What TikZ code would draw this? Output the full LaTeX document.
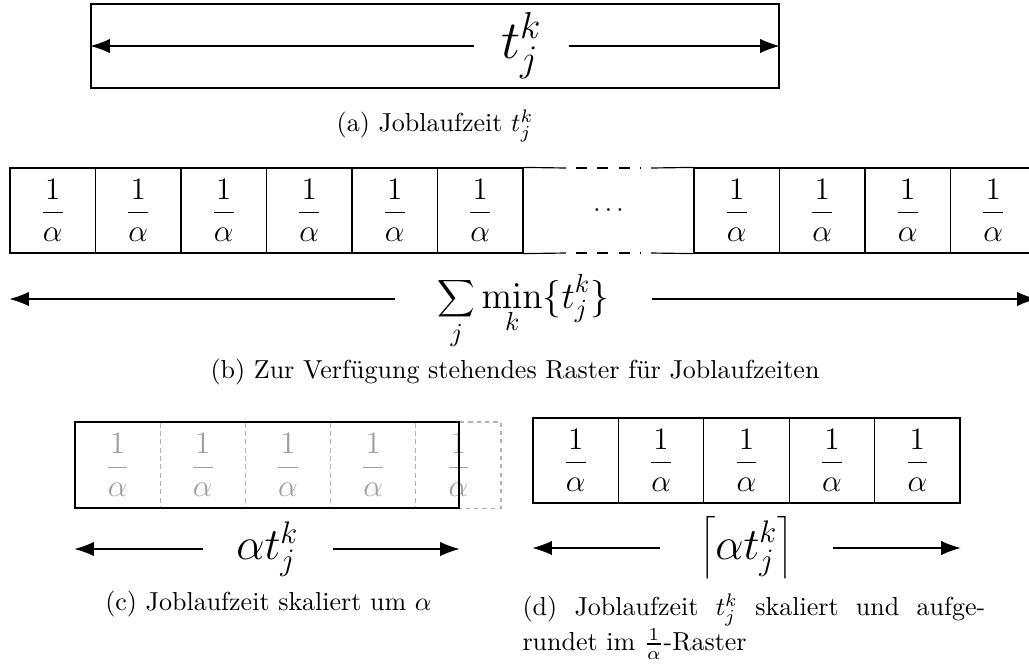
\documentclass[tikz,border=0pt]{standalone}
\usetikzlibrary{arrows.meta}
\begin{document}
\begin{tikzpicture}[x=0.3846pt, y=-0.3846pt,
  arr/.style={-{Latex[length=7.5pt,width=5.5pt]}, line width=0.45pt},
  cell/.style={draw, line width=0.45pt, minimum width=32.883pt, minimum height=32.7pt, inner sep=0pt, font=\large},
  gcell/.style={draw=black!30, dash pattern=on 1.6pt off 1.6pt, line width=0.4pt, minimum width=32.77pt, minimum height=33.08pt, inner sep=0pt, font=\large, text=black!38},
  lab/.style={inner sep=0pt},
  axlab/.style={inner sep=0pt, text height=#1+12pt, text depth=12pt-#1},
  captext/.style={inner sep=0pt}]
\useasboundingbox (0,0) rectangle (1029,667);
\newcommand{\fa}{$\displaystyle\frac{1}{\alpha}$}
% (a)
\node[draw, line width=0.45pt, minimum width=264.6pt, minimum height=32.3pt, inner sep=0pt] (tbox) at (435,46) {};
\node[lab, minimum width=35.8pt] (tl) at (521.5,46) {\huge $t_j^k$};
\draw[arr] (tl.west) -- (tl.west -| tbox.west);
\draw[arr] (tl.east) -- (tl.east -| tbox.east);
\node[captext] (capa) at (435,126) {(a) Joblaufzeit $t_j^k$};
% (b)
\foreach \i/\x in {1/52.75,2/138.25,3/223.75,4/309.25,5/394.75,6/480.25,7/736.75,8/822.25,9/907.75,10/993.25}
  \node[cell] (b\i) at (\x,210.5) {\fa};
\coordinate (gT1) at (566,168); \coordinate (gT2) at (651,168);
\coordinate (gB1) at (566,253); \coordinate (gB2) at (651,253);
\draw[line width=0.45pt] (b6.north east) -- (gT1);
\draw[line width=0.45pt] (gT2) -- (b7.north west);
\draw[line width=0.45pt] (b6.south east) -- (gB1);
\draw[line width=0.45pt] (gB2) -- (b7.south west);
\draw[line width=0.45pt, dash pattern=on 4.23pt off 3.94pt] ([xshift=3.94pt]gT1) -- ([xshift=-3.94pt]gT2);
\draw[line width=0.45pt, dash pattern=on 4.23pt off 3.94pt] ([xshift=3.94pt]gB1) -- ([xshift=-3.94pt]gB2);
\node (dots) at (608.5,210.5) {$\cdots$};
\node[axlab=3.6pt, minimum width=98.8pt] (sl) at (523.5,299) {\Large $\displaystyle\sum_j\min_k\{t_j^k\}$};
\draw[arr] (sl.west) -- (sl.west -| b1.west);
\draw[arr] (sl.east) -- (sl.east -| b10.east);
\node[captext] (capb) at (515,372) {(b) Zur Verfügung stehendes Raster für Joblaufzeiten};
% (c)
\foreach \i/\x in {1/117.6,2/202.8,3/288,4/373.2,5/458.4}
  \node[gcell] (c\i) at (\x,465) {\fa};
\node[draw, line width=0.45pt, minimum width=147.7pt, minimum height=33.08pt, inner sep=0pt] (cbox) at (267,465) {};
\node[lab, minimum width=49.6pt] (cl) at (267.5,549) {\LARGE $\alpha t_j^k$};
\draw[arr] (cl.west) -- (cl.west -| cbox.west);
\draw[arr] (cl.east) -- (cl.east -| cbox.east);
\node[captext] (capc) at (268.5,604) {(c) Joblaufzeit skaliert um $\alpha$};
% (d)
\foreach \i/\x in {1/575.7,2/661.1,3/746.5,4/831.9,5/917.3}
  \node[cell] (d\i) at (\x,460.5) {\fa};
\node[lab, minimum width=65.8pt] (dl) at (746.5,548) {\LARGE $\left\lceil\alpha t_j^k\right\rceil$};
\draw[arr] (dl.west) -- (dl.west -| d1.west);
\draw[arr] (dl.east) -- (dl.east -| d5.east);
\node[captext, anchor=north west, align=left] (capd) at (522,593) {\makebox[178pt][s]{(d) Joblaufzeit $t_j^k$ skaliert und aufge-}\\rundet im $\frac{1}{\alpha}$-Raster};
\end{tikzpicture}
\end{document}
